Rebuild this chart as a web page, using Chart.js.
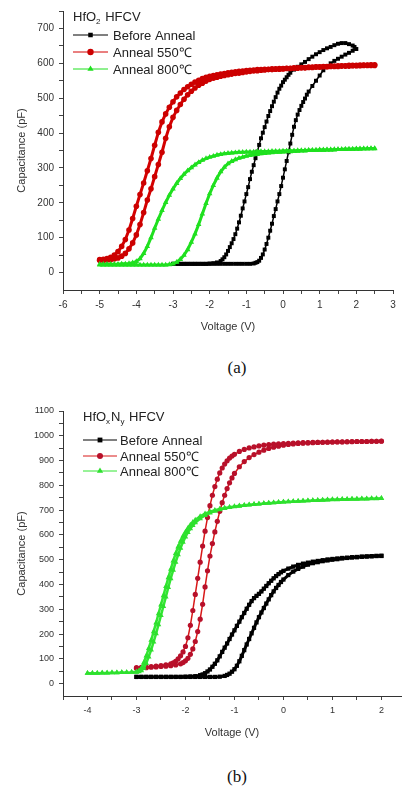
<!DOCTYPE html>
<html>
<head>
<meta charset="utf-8">
<script src="https://cdn.jsdelivr.net/npm/chart.js@4.4.1/dist/chart.umd.min.js"></script>
<style>
  body { margin: 0; background: #fff; width: 405px; height: 789px; overflow: hidden; position: relative; }
  canvas { position: absolute; left: 0; }
  #chartA { top: 0; }
  #chartB { top: 395px; }
  .cap { position: absolute; left: 137px; width: 200px; text-align: center; line-height: 20px;
         font-family: "Liberation Serif", "Times New Roman", serif; font-size: 17px; color: #111; }
</style>
</head>
<body>
<canvas id="chartA" width="405" height="340"></canvas>
<div class="cap" style="top:358px">(a)</div>
<canvas id="chartB" width="405" height="350"></canvas>
<div class="cap" style="top:767px">(b)</div>
<script>
/* ticks */
const aXTicks = [-6, -5.5, -5, -4.5, -4, -3.5, -3, -2.5, -2, -1.5, -1, -0.5, 0, 0.5, 1, 1.5, 2, 2.5, 3];
const aYTicks = [0, 50, 100, 150, 200, 250, 300, 350, 400, 450, 500, 550, 600, 650, 700, 750];
const bXTicks = [-4.5, -4, -3.5, -3, -2.5, -2, -1.5, -1, -0.5, 0, 0.5, 1, 1.5, 2];
const bYTicks = [0, 50, 100, 150, 200, 250, 300, 350, 400, 450, 500, 550, 600, 650, 700, 750, 800, 850, 900, 950, 1000, 1050, 1100];

const seriesNames = ["Before Anneal", "Anneal 550\u2103", "Anneal 800\u2103"];

/* (a) HfO2 : [voltage V, capacitance pF] */
const aBlackUp = [[-3.0,25],[-2.9,25],[-2.8,25],[-2.7,25],[-2.6,25],[-2.5,25],[-2.4,25],[-2.3,25],[-2.2,25],[-2.1,25],[-2.0,25],[-1.9,25],[-1.8,25],[-1.7,25],[-1.6,25],[-1.5,25],[-1.4,25],[-1.3,25],[-1.2,25],[-1.1,25],[-1.0,25],[-0.9,25],[-0.8,26],
  [-0.75,28],[-0.7,30],[-0.65,34],[-0.6,42],[-0.55,52],[-0.5,66],[-0.45,82],[-0.4,100],[-0.35,120],[-0.3,140],[-0.25,162],[-0.2,182],[-0.15,204],[-0.1,225],[-0.05,248],[0,272],[0.05,296],[0.1,320],[0.15,345],[0.2,370],[0.25,395],[0.3,418],[0.35,437],[0.4,453],[0.45,466],[0.5,478],[0.55,489],[0.6,499],[0.65,510],[0.7,519],
  [0.8,535],[0.9,550],[1.0,565],[1.1,580],[1.2,591],[1.3,600],[1.4,607],[1.5,613],[1.6,619],[1.7,625],[1.8,630],[1.9,636],[2.0,641]];
const aBlackDown = [[1.95,647],[1.9,651],[1.8,655],[1.7,658],[1.6,658],[1.5,656],[1.4,652],[1.3,647],[1.2,643],[1.1,638],[1.0,632],[0.9,626],[0.8,619],[0.7,612],[0.6,604],[0.5,597],[0.4,590],[0.3,582],[0.2,573],[0.15,567],[0.1,560],[0.05,553],[0,546],
  [-0.05,536],[-0.1,527],[-0.15,516],[-0.2,503],[-0.25,490],[-0.3,477],[-0.35,463],[-0.4,449],[-0.45,433],[-0.5,417],[-0.55,401],[-0.6,385],[-0.65,366],[-0.7,347],[-0.75,328],[-0.8,308],[-0.85,289],[-0.9,268],[-0.95,245],[-1.0,225],[-1.05,204],[-1.1,184],[-1.15,163],[-1.2,144],[-1.25,126],[-1.3,110],[-1.35,96],[-1.4,84],[-1.45,73],[-1.5,62],[-1.55,52],[-1.6,44],[-1.65,38],[-1.7,33],
  [-1.8,29],[-1.9,27],[-2.0,26],[-2.1,25],[-2.2,25],[-2.3,25],[-2.4,25],[-2.5,25],[-2.6,25],[-2.7,25],[-2.8,25],[-2.9,25],[-3.0,25]];

const aRedUp = [[-5.0,35],[-4.9,35],[-4.8,36],[-4.7,37],[-4.6,39],[-4.5,42],[-4.4,47],[-4.3,55],[-4.2,68],[-4.1,85],[-4.0,108],[-3.9,138],[-3.8,172],[-3.7,208],[-3.6,240],[-3.5,275],[-3.4,310],[-3.3,345],[-3.2,385],[-3.1,418],[-3.0,445],
  [-2.9,465],[-2.8,482],[-2.7,497],[-2.6,510],[-2.5,520],[-2.4,529],[-2.3,537],[-2.2,543],[-2.1,549],[-2.0,554],[-1.9,557],[-1.8,560],[-1.7,563],[-1.6,565],[-1.5,567],[-1.4,569],[-1.3,571],[-1.2,572],[-1.1,574],[-1.0,575],
  [-0.9,577],[-0.8,578],[-0.7,579],[-0.6,580],[-0.5,581],[-0.4,582],[-0.3,582],[-0.2,583],[-0.1,583],[0,584],[0.1,585],[0.2,585],[0.3,586],[0.4,586],[0.5,587],[0.6,587],[0.7,588],[0.8,588],[0.9,589],[1.0,589],
  [1.1,590],[1.2,590],[1.3,591],[1.4,591],[1.5,591],[1.6,592],[1.7,592],[1.8,592],[1.9,593],[2.0,593],[2.1,593],[2.2,594],[2.3,594],[2.4,594],[2.5,594]];
const aRedDown = [[2.5,596],[2.4,596],[2.3,595],[2.2,595],[2.1,595],[2.0,594],[1.9,594],[1.8,594],[1.7,593],[1.6,593],[1.5,593],[1.4,592],[1.3,592],[1.2,591],[1.1,591],[1.0,590],[0.9,590],[0.8,589],[0.7,589],[0.6,588],[0.5,588],
  [0.4,587],[0.3,587],[0.2,586],[0.1,586],[0,585],[-0.1,585],[-0.2,584],[-0.3,584],[-0.4,583],[-0.5,583],[-0.6,582],[-0.7,582],[-0.8,581],[-0.9,580],[-1.0,579],[-1.1,578],[-1.2,577],[-1.3,576],[-1.4,574],[-1.5,573],
  [-1.6,571],[-1.7,569],[-1.8,567],[-1.9,565],[-2.0,563],[-2.1,560],[-2.2,556],[-2.3,551],[-2.4,546],[-2.5,540],[-2.6,533],[-2.7,525],[-2.8,515],[-2.9,504],[-3.0,490],[-3.1,474],[-3.2,455],[-3.3,432],[-3.4,402],[-3.5,365],
  [-3.6,327],[-3.7,292],[-3.8,257],[-3.9,224],[-4.0,190],[-4.1,155],[-4.2,122],[-4.3,95],[-4.4,75],[-4.5,60],[-4.6,50],[-4.7,44],[-4.8,40],[-4.9,38],[-5.0,37]];

const aGreenUp = [[-5.0,22],[-4.9,22],[-4.8,22],[-4.7,22],[-4.6,22],[-4.5,22],[-4.4,22],[-4.3,22],[-4.2,22],[-4.1,22],[-4.0,22],[-3.9,22],[-3.8,22],[-3.7,22],[-3.6,22],[-3.5,22],[-3.4,22],[-3.3,22],[-3.2,22],[-3.1,23],[-3.0,25],
  [-2.9,30],[-2.8,38],[-2.7,50],[-2.6,66],[-2.5,87],[-2.4,111],[-2.3,138],[-2.2,168],[-2.1,198],[-2.0,226],[-1.9,250],[-1.8,271],[-1.7,289],[-1.6,302],[-1.5,312],[-1.4,319],[-1.3,324],[-1.2,328],[-1.1,331],[-1.0,334],
  [-0.9,336],[-0.8,338],[-0.7,339],[-0.6,341],[-0.5,342],[-0.4,343],[-0.3,344],[-0.2,345],[-0.1,345],[0,346],[0.1,347],[0.2,347],[0.3,348],[0.4,348],[0.5,349],[0.6,349],[0.7,350],[0.8,350],[0.9,351],[1.0,351],
  [1.1,351],[1.2,352],[1.3,352],[1.4,352],[1.5,353],[1.6,353],[1.7,353],[1.8,354],[1.9,354],[2.0,354],[2.1,354],[2.2,355],[2.3,355],[2.4,355],[2.5,355]];
const aGreenDown = [[2.5,356],[2.4,356],[2.3,355],[2.2,355],[2.1,355],[2.0,355],[1.9,354],[1.8,354],[1.7,354],[1.6,353],[1.5,353],[1.4,353],[1.3,352],[1.2,352],[1.1,352],[1.0,352],[0.9,351],[0.8,351],[0.7,351],[0.6,350],[0.5,350],
  [0.4,350],[0.3,349],[0.2,349],[0.1,349],[0,349],[-0.1,348],[-0.2,348],[-0.3,348],[-0.4,347],[-0.5,347],[-0.6,347],[-0.7,347],[-0.8,346],[-0.9,346],[-1.0,346],[-1.1,345],[-1.2,345],[-1.3,344],[-1.4,343],[-1.5,342],
  [-1.6,341],[-1.7,339],[-1.8,337],[-1.9,334],[-2.0,331],[-2.1,327],[-2.2,322],[-2.3,316],[-2.4,309],[-2.5,301],[-2.6,292],[-2.7,282],[-2.8,270],[-2.9,256],[-3.0,240],[-3.1,222],[-3.2,201],[-3.3,178],[-3.4,153],[-3.5,127],
  [-3.6,100],[-3.7,75],[-3.8,55],[-3.9,40],[-4.0,32],[-4.1,28],[-4.2,26],[-4.3,25],[-4.4,25],[-4.5,24],[-4.6,24],[-4.7,24],[-4.8,24],[-4.9,24],[-5.0,24]];

/* (b) HfOxNy */
const bBlackUp = [[-3.0,27],[-2.9,27],[-2.8,27],[-2.7,27],[-2.6,27],[-2.5,27],[-2.4,27],[-2.3,27],[-2.2,27],[-2.1,27],[-2.0,27],[-1.9,27],[-1.8,27],[-1.7,27],[-1.6,27],[-1.5,27],[-1.4,27],[-1.3,28],
  [-1.2,31],[-1.15,35],[-1.1,40],[-1.05,48],[-1.0,58],[-0.95,72],[-0.9,90],[-0.85,112],[-0.8,135],[-0.75,158],[-0.7,180],[-0.65,203],[-0.6,225],[-0.55,247],[-0.5,268],[-0.45,287],[-0.4,305],[-0.35,323],[-0.3,340],[-0.25,357],[-0.2,372],[-0.15,386],[-0.1,398],[-0.05,410],[0,420],
  [0.1,438],[0.2,452],[0.3,463],[0.4,472],[0.5,480],[0.6,486],[0.7,490],[0.8,494],[0.9,497],[1.0,500],[1.1,502],[1.2,505],[1.3,507],[1.4,509],[1.5,510],[1.6,512],[1.7,513],[1.8,514],[1.9,515],[2.0,515]];
const bBlackDown = [[2.0,516],[1.9,515],[1.8,514],[1.7,513],[1.6,512],[1.5,511],[1.4,510],[1.3,508],[1.2,507],[1.1,505],[1.0,503],[0.9,501],[0.8,498],[0.7,495],[0.6,492],[0.5,488],[0.4,484],[0.3,479],[0.2,472],[0.1,464],[0,455],
  [-0.05,449],[-0.1,442],[-0.15,434],[-0.2,425],[-0.25,415],[-0.3,405],[-0.35,394],[-0.4,383],[-0.45,372],[-0.5,362],[-0.55,354],[-0.6,345],[-0.65,333],[-0.7,318],[-0.75,302],[-0.8,285],[-0.85,268],[-0.9,250],[-0.95,233],[-1.0,215],
  [-1.05,198],[-1.1,180],[-1.15,162],[-1.2,145],[-1.25,128],[-1.3,110],[-1.35,94],[-1.4,80],[-1.45,68],[-1.5,57],[-1.55,49],[-1.6,42],[-1.65,37],[-1.7,34],[-1.8,30],[-1.9,29],[-2.0,28],
  [-2.1,27],[-2.2,27],[-2.3,27],[-2.4,27],[-2.5,27],[-2.6,27],[-2.7,27],[-2.8,27],[-2.9,27],[-3.0,27]];

const bRedUp = [[-3.0,62],[-2.9,63],[-2.8,64],[-2.7,66],[-2.6,67],[-2.5,69],[-2.4,70],[-2.3,72],[-2.2,75],[-2.1,80],[-2.05,85],[-2.0,92],[-1.95,102],[-1.9,118],[-1.85,140],[-1.8,170],[-1.75,210],[-1.7,260],[-1.65,320],[-1.6,390],
  [-1.55,455],[-1.5,515],[-1.45,565],[-1.4,612],[-1.35,655],[-1.3,695],[-1.25,730],[-1.2,760],[-1.15,787],[-1.1,810],[-1.05,830],[-1.0,848],[-0.9,875],[-0.8,896],[-0.7,912],[-0.6,924],[-0.5,934],[-0.4,942],[-0.3,949],[-0.2,954],[-0.1,958],
  [0,962],[0.1,965],[0.2,967],[0.3,969],[0.4,970],[0.5,971],[0.6,972],[0.7,973],[0.8,974],[0.9,975],[1.0,975],[1.1,976],[1.2,976],[1.3,976],[1.4,977],[1.5,977],[1.6,977],[1.7,977],[1.8,978],[1.9,978],[2.0,978]];
const bRedDown = [[2.0,979],[1.9,978],[1.8,978],[1.7,977],[1.6,977],[1.5,977],[1.4,976],[1.3,976],[1.2,975],[1.1,975],[1.0,975],[0.9,974],[0.8,974],[0.7,973],[0.6,973],[0.5,972],[0.4,972],[0.3,971],[0.2,970],[0.1,969],[0,968],
  [-0.1,967],[-0.2,966],[-0.3,964],[-0.4,962],[-0.5,959],[-0.6,955],[-0.7,951],[-0.8,945],[-0.9,937],[-1.0,925],[-1.05,918],[-1.1,910],[-1.15,899],[-1.2,886],[-1.25,870],[-1.3,850],[-1.35,825],[-1.4,795],[-1.45,760],[-1.5,718],
  [-1.55,670],[-1.6,615],[-1.65,555],[-1.7,490],[-1.75,425],[-1.8,360],[-1.85,295],[-1.9,235],[-1.95,185],[-2.0,150],[-2.05,128],[-2.1,112],[-2.15,100],[-2.2,90],[-2.25,84],[-2.3,80],[-2.4,76],[-2.5,73],[-2.6,71],[-2.7,69],[-2.8,67],[-2.9,66],[-3.0,65]];

const bGreenUp = [[-4.0,42],[-3.9,42],[-3.8,42],[-3.7,43],[-3.6,43],[-3.5,44],[-3.4,44],[-3.3,45],[-3.2,45],[-3.1,46],[-3.0,46],[-2.95,48],[-2.9,52],[-2.85,62],[-2.8,82],[-2.75,108],[-2.7,136],[-2.65,168],[-2.6,202],[-2.55,238],[-2.5,275],
  [-2.45,312],[-2.4,350],[-2.35,388],[-2.3,424],[-2.25,458],[-2.2,490],[-2.15,520],[-2.1,547],[-2.05,571],[-2.0,592],[-1.95,610],[-1.9,625],[-1.85,638],[-1.8,649],[-1.7,666],[-1.6,679],[-1.5,689],[-1.4,696],[-1.3,702],[-1.2,707],
  [-1.1,711],[-1.0,714],[-0.9,716],[-0.8,719],[-0.7,721],[-0.6,723],[-0.5,725],[-0.4,727],[-0.3,729],[-0.2,730],[-0.1,732],[0,733],[0.1,734],[0.2,735],[0.3,736],[0.4,737],[0.5,738],[0.6,739],[0.7,739],[0.8,740],[0.9,741],[1.0,742],
  [1.1,742],[1.2,743],[1.3,743],[1.4,744],[1.5,744],[1.6,745],[1.7,745],[1.8,746],[1.9,746],[2.0,747]];
const bGreenDown = [[2.0,748],[1.9,747],[1.8,747],[1.7,746],[1.6,746],[1.5,745],[1.4,745],[1.3,744],[1.2,744],[1.1,743],[1.0,743],[0.9,742],[0.8,741],[0.7,740],[0.6,739],[0.5,738],[0.4,737],[0.3,736],[0.2,735],[0.1,734],[0,733],
  [-0.1,731],[-0.2,730],[-0.3,728],[-0.4,727],[-0.5,725],[-0.6,724],[-0.7,722],[-0.8,720],[-0.9,718],[-1.0,715],[-1.1,712],[-1.2,709],[-1.3,705],[-1.4,700],[-1.5,694],[-1.6,686],[-1.7,675],[-1.8,660],[-1.85,651],[-1.9,640],
  [-1.95,627],[-2.0,612],[-2.05,595],[-2.1,575],[-2.15,552],[-2.2,525],[-2.25,495],[-2.3,462],[-2.35,428],[-2.4,392],[-2.45,355],[-2.5,318],[-2.55,282],[-2.6,245],[-2.65,210],[-2.7,175],[-2.75,142],[-2.8,112],[-2.85,85],[-2.9,62],
  [-2.95,52],[-3.0,48],[-3.1,46],[-3.2,45],[-3.3,45],[-3.4,44],[-3.5,44],[-3.6,43],[-3.7,43],[-3.8,42],[-3.9,42],[-4.0,42]];

const FONT = '"Liberation Sans", Arial, sans-serif';

let toXY = (pairs) => pairs.map(p => ({ x: p[0], y: p[1] }));

let marker = (ctx, style, x, y, r) => {
  ctx.beginPath();
  if (style === 'rect') {
    let s = r * Math.SQRT1_2;
    ctx.rect(x - s, y - s, 2 * s, 2 * s);
  } else if (style === 'triangle') {
    ctx.moveTo(x, y - r);
    ctx.lineTo(x + r * 0.866, y + r * 0.5);
    ctx.lineTo(x - r * 0.866, y + r * 0.5);
    ctx.closePath();
  } else {
    ctx.arc(x, y, r, 0, Math.PI * 2);
  }
  ctx.fill();
};

/* legend in the Origin style: line + marker + label, title with subscripts */
const originLegend = {
  id: 'originLegend',
  afterDraw(chart, args, opts) {
    const ctx = chart.ctx;
    ctx.save();
    ctx.textBaseline = 'middle';
    ctx.fillStyle = '#222';
    let x = opts.x;
    opts.title.forEach(part => {
      ctx.font = (part[1] ? '8px ' : '13px ') + FONT;
      ctx.fillText(part[0], x, opts.titleY + (part[1] ? 5 : 0));
      x += ctx.measureText(part[0]).width + (part[1] ? 1 : 0);
    });
    chart.data.datasets.forEach((ds, i) => {
      let y = opts.rowY[i];
      ctx.strokeStyle = ds.borderColor;
      ctx.lineWidth = 1;
      ctx.beginPath();
      ctx.moveTo(opts.x, y);
      ctx.lineTo(opts.x + opts.lineLen, y);
      ctx.stroke();
      ctx.fillStyle = ds.pointBackgroundColor;
      marker(ctx, ds.pointStyle, opts.x + opts.lineLen / 2, y, ds.pointRadius + 0.4);
      ctx.fillStyle = '#222';
      ctx.font = '13px ' + FONT;
      ctx.fillText(ds.label, opts.textX, y + 1);
    });
    ctx.restore();
  }
};

let makeSet = (label, up, down, color, dotColor, style, r, bw, order) => ({
  label: label,
  data: toXY(up).concat(toXY(down)),
  showLine: true,
  borderColor: color,
  borderWidth: bw,
  pointStyle: style,
  pointRadius: r,
  pointBackgroundColor: dotColor,
  pointBorderWidth: 0,
  tension: 0,
  order: order
});

let axes = (xr, yr, xTicks, yTicks, tickSize) => ({
  x: {
    type: 'linear', min: xr[0], max: xr[1],
    afterBuildTicks: s => { s.ticks = xTicks.map(v => ({ value: v })); },
    afterFit: s => { s.height = 48; },
    ticks: { autoSkip: false, maxRotation: 0, padding: 5, color: '#333', font: { family: FONT, size: tickSize },
             callback: v => Number.isInteger(v) ? String(v) : '' },
    grid: { drawOnChartArea: false, drawTicks: true, tickLength: 4, tickColor: '#444' },
    border: { display: true, color: '#333', width: 1 },
    title: { display: true, text: 'Voltage (V)', color: '#333', font: { family: FONT, size: 11 }, padding: { top: 4, bottom: 4 } }
  },
  y: {
    type: 'linear', min: yr[0], max: yr[1],
    afterBuildTicks: s => { s.ticks = yTicks.map(v => ({ value: v })); },
    afterFit: s => { s.width = 52; },
    ticks: { autoSkip: false, padding: 5, color: '#333', font: { family: FONT, size: tickSize },
             callback: v => v % 100 === 0 ? String(v) : '' },
    grid: { drawOnChartArea: false, drawTicks: true, tickLength: 4, tickColor: '#444' },
    border: { display: true, color: '#333', width: 1 },
    title: { display: true, text: 'Capacitance (pF)', color: '#333', font: { family: FONT, size: 11 }, padding: { top: 4, bottom: 4 } }
  }
});

let plotA = () => {
  const ctx = document.getElementById('chartA');
  new Chart(ctx, {
    type: 'scatter',
    data: {
      datasets: [
        makeSet(seriesNames[0], aBlackUp, aBlackDown, '#000', '#000', 'rect', 2.8, 1.5, 2),
        makeSet(seriesNames[1], aRedUp, aRedDown, '#d40000', '#cc0000', 'circle', 2.8, 3, 1),
        makeSet(seriesNames[2], aGreenUp, aGreenDown, '#1fe01f', '#1fe01f', 'triangle', 3.2, 3, 0)
      ]
    },
    options: {
      responsive: false, animation: false, events: [],
      layout: { padding: { left: 11, right: 12, top: 8, bottom: 2 } },
      plugins: {
        legend: { display: false }, tooltip: { enabled: false },
        originLegend: { x: 73, textX: 113, lineLen: 35, titleY: 17, rowY: [35, 52, 69], title: [['HfO', 0], ['2', 1], [' HFCV', 0]] }
      },
      scales: axes([-6, 3], [-50, 750], aXTicks, aYTicks, 10)
    },
    plugins: [originLegend]
  });
};

let plotB = () => {
  const ctx = document.getElementById('chartB');
  new Chart(ctx, {
    type: 'scatter',
    data: {
      datasets: [
        makeSet(seriesNames[0], bBlackUp, bBlackDown, '#000', '#000', 'rect', 3, 3, 2),
        makeSet(seriesNames[1], bRedUp, bRedDown, '#d81818', '#b8102a', 'circle', 2.6, 1.5, 1),
        makeSet(seriesNames[2], bGreenUp, bGreenDown, '#33e633', '#2ee02e', 'triangle', 3.2, 2.5, 0)
      ]
    },
    options: {
      responsive: false, animation: false, events: [],
      layout: { padding: { left: 11, right: 0, top: 16, bottom: 1 } },
      plugins: {
        legend: { display: false }, tooltip: { enabled: false },
        originLegend: { x: 83, textX: 120, lineLen: 34, titleY: 22, rowY: [45, 61, 76], title: [['HfO', 0], ['x', 1], ['N', 0], ['y', 1], [' HFCV', 0]] }
      },
      scales: axes([-4.5, 2.4], [-50, 1100], bXTicks, bYTicks, 9)
    },
    plugins: [originLegend]
  });
};

plotA();
plotB();
</script>
</body>
</html>
